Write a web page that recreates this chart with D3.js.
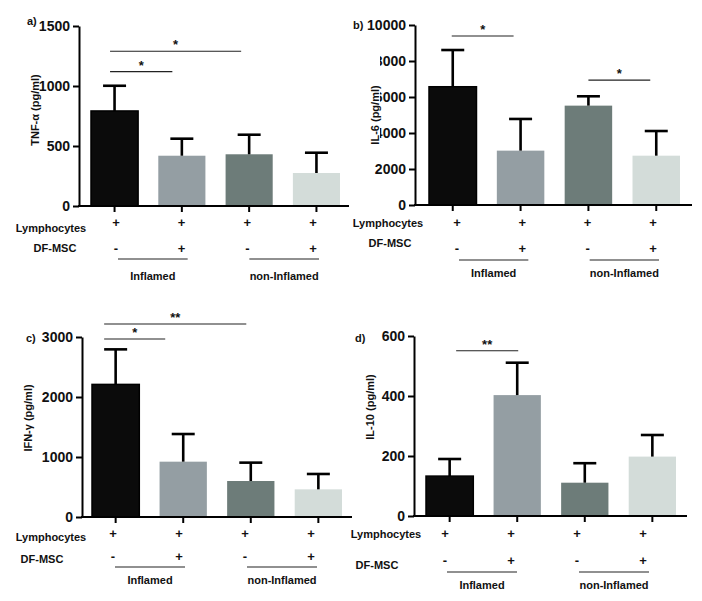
<!DOCTYPE html>
<html><head><meta charset="utf-8">
<script src="https://cdn.jsdelivr.net/npm/d3@7"></script>
<style>
body{margin:0;background:#fff}
svg{display:block;font-family:"Liberation Sans",Arial,sans-serif;font-weight:bold}
</style>
</head><body>
<svg id="chart" width="702" height="601"></svg>
<script>
// ---------- data ----------
const conditions = ["Inflamed: Lymphocytes", "Inflamed: Lymphocytes + DF-MSC", "non-Inflamed: Lymphocytes", "non-Inflamed: Lymphocytes + DF-MSC"];
const lymphocytesRow = ["+", "+", "+", "+"];
const dfmscRow = ["-", "+", "-", "+"];
const groupNames = ["Inflamed", "non-Inflamed"];
const groupSpans = [[0, 1], [2, 3]];
const barColors = ["#0b0b0b", "#949ea3", "#6d7c79", "#d3dcd9"];

const tnfMean = [792, 419, 431, 275];
const tnfSD = [210, 142, 163, 169];
const tnfTicks = [0, 500, 1000, 1500];
const tnfSig = [{from: 0, to: 2, level: 1290, label: "*"}, {from: 0, to: 1, level: 1120, label: "*"}];

const il6Mean = [6570, 3020, 5520, 2740];
const il6SD = [2040, 1760, 520, 1370];
const il6Ticks = [0, 2000, 4000, 6000, 8000, 10000];
const il6Sig = [{from: 0, to: 1, level: 9390, label: "*"}, {from: 2, to: 3, level: 6940, label: "*"}];

const ifnMean = [2210, 922, 600, 461];
const ifnSD = [584, 461, 306, 256];
const ifnTicks = [0, 1000, 2000, 3000];
const ifnSig = [{from: 0, to: 2, level: 3217, label: "**"}, {from: 0, to: 1, level: 2967, label: "*"}];

const il10Mean = [133, 403, 111, 198];
const il10SD = [57, 108, 65, 72];
const il10Ticks = [0, 200, 400, 600];
const il10Sig = [{from: 0, to: 1, level: 551, label: "**"}];

// ---------- layout ----------
const panels = [
  {tag: "a)", ylabel: "TNF-α (pg/ml)", mean: tnfMean, sd: tnfSD, ticks: tnfTicks, sig: tnfSig,
   x0: 79, xEnd: 349, bars: [91, 340], yr: [206, 26], tagPos: [27, 21], ylabPos: [35, 110],
   lymPos: [51, 228], dfPos: [55, 248], signs: [116, 313], rowY: [222, 248], gLineY: 259, gLabY: 276,
   sigDx: [[-4.5, -8], [-4.5, -9.5]]},
  {tag: "b)", ylabel: "IL-6 (pg/ml)", mean: il6Mean, sd: il6SD, ticks: il6Ticks, sig: il6Sig,
   x0: 415, xEnd: 692, bars: [429, 680], yr: [205, 25], tagPos: [353, 25], ylabPos: [375, 115],
   lymPos: [388, 223], dfPos: [390, 243], signs: [457, 653], rowY: [222, 248], gLineY: 260, gLabY: 273,
   sigDx: [[-1, -7], [0, -6]], cover: [362, 50, 18, 98]},
  {tag: "c)", ylabel: "IFN-γ (pg/ml)", mean: ifnMean, sd: ifnSD, ticks: ifnTicks, sig: ifnSig,
   x0: 82, xEnd: 352, bars: [92, 342], yr: [517, 337], tagPos: [26, 338], ylabPos: [28, 418],
   lymPos: [51, 537], dfPos: [42, 559], signs: [113, 311], rowY: [533, 556], gLineY: 567, gLabY: 580,
   sigDx: [[-11.5, -4.5], [-11.5, -18]]},
  {tag: "d)", ylabel: "IL-10 (pg/ml)", mean: il10Mean, sd: il10SD, ticks: il10Ticks, sig: il10Sig,
   x0: 414, xEnd: 687, bars: [426, 676], yr: [516, 336], tagPos: [355, 338], ylabPos: [370, 407],
   lymPos: [386, 534], dfPos: [377, 565], signs: [445, 643], rowY: [533, 560], gLineY: 572, gLabY: 585,
   sigDx: [[6.5, 1]]}
];

const svg = d3.select("#chart");

panels.forEach(p => {
  const g = svg.append("g");
  const x = d3.scaleBand().domain(conditions).range(p.bars).paddingInner(0.3).paddingOuter(0);
  const y = d3.scaleLinear().domain([d3.min(p.ticks), d3.max(p.ticks)]).range(p.yr);
  const sx = d3.scalePoint().domain(conditions).range(p.signs);
  const cx = i => x(conditions[i]) + x.bandwidth() / 2;

  // bars
  g.selectAll("rect.bar").data(p.mean).join("rect")
    .attr("class", "bar")
    .attr("x", (d, i) => x(conditions[i]))
    .attr("width", x.bandwidth())
    .attr("y", d => y(d))
    .attr("height", d => y(0) - y(d))
    .attr("fill", (d, i) => barColors[i])
    .attr("stroke", (d, i) => i === 0 ? "#000" : "none")
    .attr("stroke-width", 1.5);

  // error bars (upper only)
  const capW = 11.5;
  p.mean.forEach((m, i) => {
    const top = y(m + p.sd[i]);
    g.append("line").attr("x1", cx(i)).attr("x2", cx(i)).attr("y1", y(m)).attr("y2", top)
      .attr("stroke", "#000").attr("stroke-width", 2.6);
    g.append("line").attr("x1", cx(i) - capW).attr("x2", cx(i) + capW).attr("y1", top).attr("y2", top)
      .attr("stroke", "#000").attr("stroke-width", 2.6);
  });

  // y axis
  const yAxis = g.append("g").attr("transform", `translate(${p.x0},0)`)
    .call(d3.axisLeft(y).tickValues(p.ticks).tickSize(6).tickPadding(3).tickSizeOuter(0).tickFormat(d3.format("d")));
  yAxis.select(".domain").attr("stroke-width", 2);
  yAxis.selectAll(".tick line").attr("stroke-width", 2);
  yAxis.selectAll(".tick text").attr("font-size", 14).attr("font-weight", "bold")
    .attr("font-family", "Liberation Sans, Arial, sans-serif").attr("fill", "#111");

  // x axis
  const xAxis = g.append("g").attr("transform", `translate(0,${y(0)})`)
    .call(d3.axisBottom(x).tickSize(6).tickFormat(""));
  xAxis.select(".domain").remove();
  xAxis.selectAll(".tick line").attr("stroke-width", 2);
  g.append("line").attr("x1", p.x0 - 1).attr("x2", p.xEnd).attr("y1", y(0)).attr("y2", y(0))
    .attr("stroke", "#000").attr("stroke-width", 2);

  // occluding patch over tick labels (as in the original figure)
  if (p.cover) {
    g.append("rect").attr("x", p.cover[0]).attr("y", p.cover[1]).attr("width", p.cover[2]).attr("height", p.cover[3])
      .attr("fill", "#fff");
  }

  // y label
  g.append("text").attr("transform", `translate(${p.ylabPos[0]},${p.ylabPos[1]}) rotate(-90)`)
    .attr("text-anchor", "middle").attr("dominant-baseline", "central")
    .attr("font-size", 11).attr("fill", "#111").text(p.ylabel);

  // panel tag
  g.append("text").attr("x", p.tagPos[0]).attr("y", p.tagPos[1]).attr("dominant-baseline", "central")
    .attr("font-size", 11).attr("fill", "#111").text(p.tag);

  // significance brackets
  p.sig.forEach((s, k) => {
    const x1 = cx(s.from) + p.sigDx[k][0], x2 = cx(s.to) + p.sigDx[k][1], ly = y(s.level);
    g.append("line").attr("x1", x1).attr("x2", x2).attr("y1", ly).attr("y2", ly)
      .attr("stroke", "#222").attr("stroke-width", 1.1);
    g.append("text").attr("x", (x1 + x2) / 2).attr("y", ly - 2).attr("text-anchor", "middle")
      .attr("font-size", 13).attr("fill", "#111").text(s.label);
  });

  // row labels
  g.append("text").attr("x", p.lymPos[0]).attr("y", p.lymPos[1]).attr("text-anchor", "middle")
    .attr("dominant-baseline", "central").attr("font-size", 11).attr("fill", "#111").text("Lymphocytes");
  g.append("text").attr("x", p.dfPos[0]).attr("y", p.dfPos[1]).attr("text-anchor", "middle")
    .attr("dominant-baseline", "central").attr("font-size", 11).attr("fill", "#111").text("DF-MSC");

  // +/- rows
  [lymphocytesRow, dfmscRow].forEach((row, r) => {
    g.selectAll(null).data(row).join("text")
      .attr("x", (d, i) => sx(conditions[i]))
      .attr("y", p.rowY[r])
      .attr("text-anchor", "middle").attr("dominant-baseline", "central")
      .attr("font-size", 13).attr("fill", "#111").text(d => d);
  });

  // group lines and labels
  groupSpans.forEach((span, k) => {
    const gx1 = sx(conditions[span[0]]) + 2, gx2 = sx(conditions[span[1]]) + 6;
    g.append("line").attr("x1", gx1).attr("x2", gx2).attr("y1", p.gLineY).attr("y2", p.gLineY)
      .attr("stroke", "#222").attr("stroke-width", 1.1);
    g.append("text").attr("x", (gx1 + gx2) / 2).attr("y", p.gLabY).attr("text-anchor", "middle")
      .attr("dominant-baseline", "central").attr("font-size", 11).attr("fill", "#111").text(groupNames[k]);
  });
});
</script>
</body></html>
